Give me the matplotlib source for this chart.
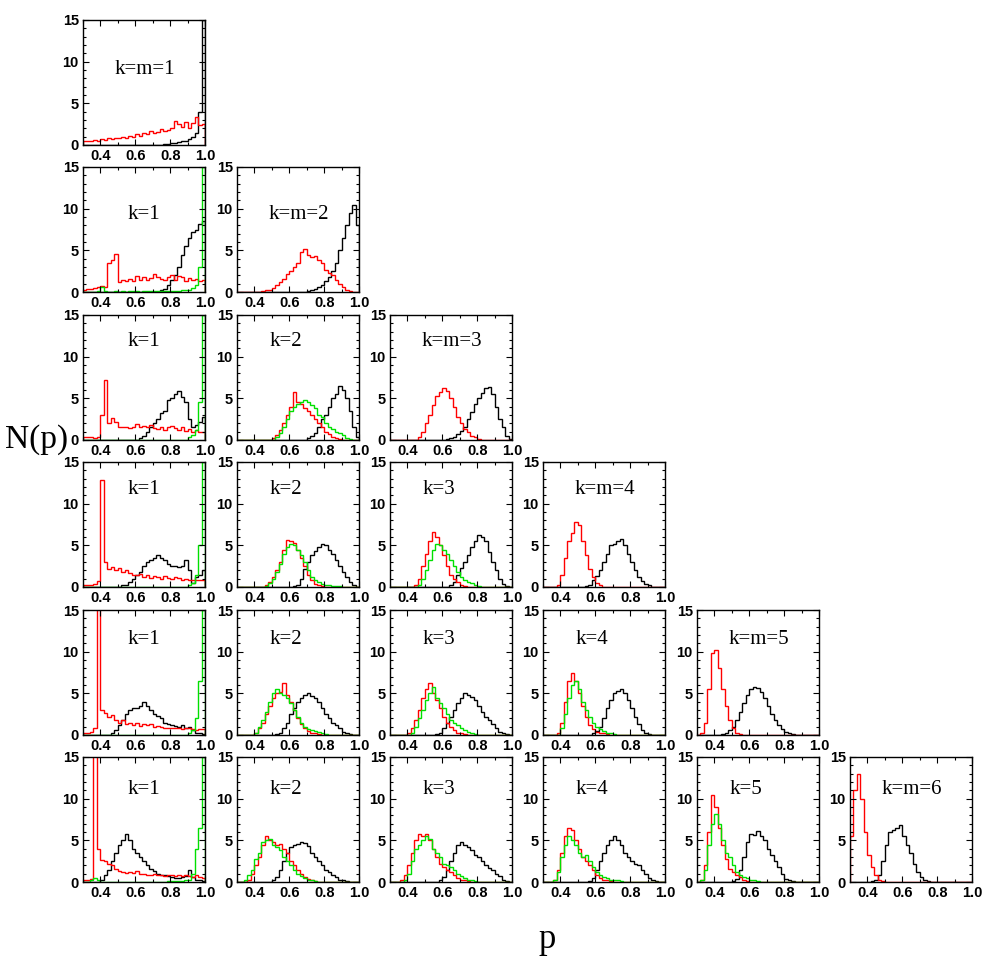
import numpy as np
import matplotlib
matplotlib.use("Agg")
import matplotlib.pyplot as plt
from matplotlib.ticker import MultipleLocator

# histogram heights, bin width 0.02 on p = 0.30 .. 1.00
# each curve is (centre of first listed bin, heights); bins not listed are 0
# row m = 1
m1_k1_red = (0.31, [0.5, 0.5, 0.5, 0.6, 0.5, 0.7, 0.6, 0.8, 0.7, 0.9, 0.8, 1.0, 0.9, 1.1, 1.0, 1.3, 1.1, 1.4,
                    1.3, 1.7, 1.5, 1.6, 1.9, 1.7, 1.8, 2.0, 2.9, 2.5, 2.2, 2.8, 2.0, 2.6, 3.4, 2.4, 2.5])
m1_k1_black = (0.77, [0.1, 0.1, 0.2, 0.3, 0.4, 0.5, 0.5, 0.7, 1.0, 1.5, 4.0, 15.0])

# row m = 2
m2_k1_red = (0.31, [0.3, 0.4, 0.4, 0.5, 0.6, 0.7, 0.6, 3.5, 3.8, 4.6, 1.2, 1.5, 1.3, 1.6, 1.3, 1.9, 1.4, 1.8,
                    1.5, 1.7, 2.2, 1.8, 1.6, 1.5, 1.8, 2.0, 1.4, 1.9, 1.8, 1.3, 1.7, 1.4, 1.6, 1.3, 1.4])
m2_k1_green = (0.39, [0.1, 0.6, 0.1, 0.05, 0.05, 0.1, 0.05, 0.1, 0.05, 0.1, 0.1, 0.1, 0.05, 0.1, 0.1, 0.1,
                      0.1, 0.1, 0.1, 0.1, 0.1, 0.15, 0.1, 0.15, 0.2, 0.2, 0.3, 0.5, 0.8, 3.0, 15.0])
m2_k1_black = (0.75, [0.2, 0.4, 0.8, 1.5, 2.0, 3.0, 4.5, 5.5, 6.5, 7.2, 7.5, 8.2, 8.5])
m2_k2_red = (0.45, [0.1, 0.2, 0.3, 0.5, 0.8, 1.2, 1.6, 2.2, 2.5, 3.0, 3.5, 4.8, 5.2, 4.5, 4.2, 4.3, 3.8, 3.5,
                    2.6, 2.3, 2.0, 1.5, 1.0, 0.6, 0.3, 0.1])
m2_k2_black = (0.71, [0.1, 0.2, 0.4, 0.6, 0.9, 1.3, 1.8, 2.5, 3.5, 5.0, 6.5, 8.0, 9.5, 10.5, 8.0])

# row m = 3
m3_k1_red = (0.31, [0.3, 0.3, 0.3, 0.2, 0.3, 3.0, 7.2, 2.0, 2.6, 2.2, 1.6, 1.5, 1.6, 1.4, 1.5, 1.9, 1.6, 1.7,
                    1.5, 1.8, 1.4, 1.3, 1.5, 1.2, 1.5, 1.7, 1.4, 1.2, 1.5, 1.1, 1.3, 1.0, 1.2, 1.0, 0.9])
m3_k1_green = (0.91, [0.3, 0.6, 1.2, 4.5, 15.0])
m3_k1_black = (0.63, [0.2, 0.5, 1.0, 1.5, 2.0, 2.5, 3.2, 3.5, 4.8, 5.0, 5.5, 5.9, 5.2, 4.5, 2.5, 1.5, 1.8,
                      2.2, 2.8])
m3_k2_red = (0.51, [0.2, 0.6, 1.2, 2.0, 3.0, 4.0, 5.8, 4.5, 4.3, 3.8, 3.5, 3.0, 2.5, 2.0, 1.5, 1.0, 0.7, 0.4,
                    0.2, 0.1])
m3_k2_green = (0.53, [0.3, 0.8, 1.5, 2.5, 3.5, 4.0, 4.3, 4.5, 4.8, 4.5, 4.2, 3.8, 3.0, 2.8, 2.0, 1.6, 1.3,
                      1.0, 0.8, 0.6, 0.2, 0.1])
m3_k2_black = (0.71, [0.2, 0.5, 0.8, 1.5, 2.5, 3.0, 4.0, 5.0, 5.5, 6.5, 6.0, 5.0, 3.5, 1.5, 0.3])
m3_k3_red = (0.47, [0.3, 1.0, 2.0, 3.0, 4.2, 5.3, 5.8, 6.2, 5.9, 5.0, 4.0, 2.8, 2.0, 1.3, 0.9, 0.5, 0.3, 0.1])
m3_k3_black = (0.63, [0.1, 0.2, 0.4, 0.7, 1.1, 1.6, 2.5, 3.4, 4.3, 5.0, 5.6, 6.2, 6.4, 5.5, 4.0, 2.5, 1.5,
                      0.5, 0.1])

# row m = 4
m4_k1_red = (0.31, [0.2, 0.3, 0.2, 0.4, 0.7, 12.8, 3.0, 2.2, 2.4, 2.0, 2.3, 1.8, 2.0, 1.7, 1.5, 1.4, 1.6, 1.2,
                    1.4, 1.1, 1.3, 1.2, 1.0, 1.3, 1.1, 1.0, 1.2, 1.1, 0.9, 1.0, 0.9, 0.8, 0.9, 0.8, 0.8])
m4_k1_green = (0.91, [0.2, 0.5, 1.5, 5.0, 15.0])
m4_k1_black = (0.53, [0.2, 0.3, 0.6, 1.0, 1.5, 1.8, 2.5, 3.0, 3.2, 3.5, 3.8, 3.5, 3.2, 2.8, 2.5, 2.5, 2.4,
                      2.5, 3.2, 2.0, 0.5, 1.2, 1.5, 2.0])
m4_k2_red = (0.47, [0.2, 0.6, 1.2, 2.0, 3.0, 4.5, 5.7, 5.5, 5.3, 4.5, 3.5, 2.5, 1.5, 0.8, 0.4, 0.2, 0.1])
m4_k2_green = (0.47, [0.1, 0.5, 1.0, 1.8, 2.8, 4.0, 4.8, 5.2, 5.0, 4.5, 3.8, 3.0, 2.0, 1.2, 0.8, 0.6, 0.4,
                      0.3, 0.2, 0.15, 0.1, 0.1])
m4_k2_black = (0.63, [0.1, 0.3, 1.0, 2.2, 3.0, 3.8, 4.3, 4.8, 5.2, 5.0, 4.5, 4.0, 3.2, 2.5, 1.8, 1.2, 0.6,
                      0.2, 0.05])
m4_k3_red = (0.45, [0.3, 1.0, 2.5, 4.0, 5.5, 6.6, 6.0, 5.0, 3.8, 2.5, 1.5, 1.0, 0.6, 0.3, 0.1])
m4_k3_green = (0.47, [0.3, 1.0, 2.0, 3.2, 4.5, 5.2, 5.0, 4.5, 4.0, 3.2, 2.5, 1.8, 1.2, 0.9, 0.6, 0.5, 0.3, 0.1])
m4_k3_black = (0.65, [0.2, 0.6, 1.5, 2.3, 3.0, 3.8, 4.8, 5.5, 6.3, 6.0, 5.5, 4.2, 3.0, 2.0, 1.0, 0.4, 0.1])
m4_k4_red = (0.39, [0.2, 1.5, 3.5, 5.5, 6.5, 7.8, 7.5, 5.5, 3.8, 2.2, 1.2, 0.5, 0.2])
m4_k4_black = (0.55, [0.1, 0.3, 0.8, 1.3, 2.0, 3.0, 4.0, 5.0, 5.2, 5.5, 5.8, 5.0, 4.0, 3.0, 2.0, 1.2, 0.7,
                      0.4, 0.2, 0.05])

# row m = 5
m5_k1_red = (0.31, [0.3, 0.3, 0.4, 0.8, 16.0, 3.0, 2.6, 2.2, 2.4, 1.8, 1.5, 1.8, 1.3, 1.5, 1.2, 1.4, 1.1, 1.3,
                    1.2, 1.3, 1.0, 1.1, 1.0, 0.8, 0.9, 0.8, 0.9, 0.8, 0.7, 0.8, 0.9, 0.7, 0.6, 0.7, 0.7])
m5_k1_green = (0.91, [0.3, 0.6, 2.0, 6.5, 15.0])
m5_k1_black = (0.47, [0.2, 0.6, 1.2, 1.8, 2.5, 3.0, 3.3, 3.2, 3.5, 4.0, 3.5, 3.0, 2.5, 2.3, 2.0, 1.5, 1.3,
                      1.2, 1.1, 1.0, 1.2, 0.9, 1.0, 0.6, 0.3, 0.2, 0.1])
m5_k2_red = (0.41, [0.3, 0.8, 1.5, 2.5, 3.5, 4.5, 5.0, 5.2, 6.2, 4.8, 4.0, 3.0, 2.0, 1.3, 0.8, 0.5, 0.3, 0.2,
                    0.1])
m5_k2_green = (0.41, [0.3, 1.0, 1.8, 2.8, 4.0, 5.0, 5.5, 5.0, 4.8, 4.5, 3.8, 3.0, 2.2, 1.5, 1.0, 0.7, 0.6,
                      0.5, 0.4, 0.2, 0.1])
m5_k2_black = (0.53, [0.1, 0.3, 0.8, 1.5, 2.5, 3.3, 4.0, 4.5, 4.8, 5.0, 4.7, 4.5, 4.0, 3.2, 2.5, 2.0, 1.5,
                      1.2, 0.8, 0.4, 0.2, 0.1])
m5_k3_red = (0.41, [0.2, 0.8, 1.8, 3.0, 4.5, 5.5, 6.3, 5.0, 4.2, 3.2, 2.2, 1.5, 1.0, 0.6, 0.3, 0.2, 0.1])
m5_k3_green = (0.43, [0.3, 1.0, 2.0, 3.0, 4.2, 5.0, 5.8, 4.5, 3.8, 3.2, 2.5, 1.8, 1.5, 1.2, 0.8, 0.6, 0.4,
                      0.2, 0.1])
m5_k3_black = (0.57, [0.1, 0.3, 0.8, 1.5, 2.2, 3.0, 3.8, 4.5, 5.0, 4.8, 4.6, 4.2, 3.5, 2.8, 2.2, 1.8, 1.3,
                      0.8, 0.4, 0.2, 0.1])
m5_k4_red = (0.39, [0.3, 1.5, 4.0, 6.5, 7.5, 6.5, 5.0, 3.5, 2.2, 1.2, 0.7, 0.4, 0.3, 0.2, 0.1])
m5_k4_green = (0.41, [0.8, 2.5, 4.5, 6.0, 6.5, 5.5, 4.0, 3.0, 2.2, 1.5, 1.0, 0.7, 0.5, 0.3, 0.2, 0.1])
m5_k4_black = (0.59, [0.2, 0.5, 1.0, 2.0, 3.2, 4.2, 5.0, 5.3, 5.5, 5.0, 4.2, 3.2, 2.2, 1.3, 0.6, 0.3, 0.1])
m5_k5_red = (0.33, [0.3, 1.5, 5.5, 9.8, 10.2, 8.0, 5.5, 3.5, 1.8, 0.8, 0.3, 0.1])
m5_k5_black = (0.45, [0.1, 0.3, 0.6, 1.0, 1.8, 2.8, 3.8, 4.8, 5.5, 5.8, 5.6, 5.2, 4.5, 3.5, 2.5, 1.8, 1.2,
                      0.7, 0.4, 0.2, 0.1])

# row m = 6
m6_k1_red = (0.31, [0.3, 0.3, 0.4, 16.0, 4.0, 2.7, 2.5, 2.2, 2.0, 1.6, 1.3, 1.2, 1.1, 1.2, 1.1, 1.3, 1.0, 1.0,
                    0.9, 0.8, 1.0, 0.9, 0.8, 0.7, 0.9, 0.8, 0.7, 0.8, 0.7, 0.8, 0.7, 0.6, 0.8, 0.6, 0.5])
m6_k1_green = (0.35, [0.2, 0.5, 0.2, 0.0, 0.0, 0.0, 0.0, 0.0, 0.0, 0.0, 0.0, 0.0, 0.0, 0.0, 0.0, 0.0, 0.0,
                      0.0, 0.0, 0.0, 0.0, 0.0, 0.1, 0.1, 0.1, 0.1, 0.1, 0.2, 0.3, 1.0, 4.0, 6.5, 15.0])
m6_k1_black = (0.41, [0.3, 0.8, 1.5, 2.5, 3.5, 4.5, 5.0, 5.8, 5.0, 4.0, 3.5, 3.0, 2.5, 2.0, 1.6, 1.3, 1.0,
                      0.8, 0.8, 0.7, 0.6, 0.5, 0.5, 0.6, 0.7, 1.5, 0.6, 0.3, 0.2, 0.1])
m6_k2_red = (0.37, [0.3, 1.0, 2.0, 3.0, 4.5, 5.5, 5.0, 4.8, 4.5, 4.6, 4.0, 3.5, 2.5, 2.0, 1.5, 1.0, 0.6, 0.4,
                    0.2, 0.1])
m6_k2_green = (0.35, [0.2, 0.8, 1.5, 2.8, 3.5, 4.8, 5.0, 5.2, 4.5, 4.2, 3.8, 3.0, 2.5, 2.0, 1.5, 1.0, 0.7,
                      0.5, 0.3, 0.2, 0.1])
m6_k2_black = (0.51, [0.2, 0.6, 1.5, 2.5, 3.5, 4.2, 4.5, 4.6, 4.8, 4.7, 4.3, 3.5, 3.0, 2.5, 2.0, 1.5, 1.2,
                      0.8, 0.6, 0.3, 0.2, 0.1])
m6_k3_red = (0.37, [0.2, 0.8, 2.0, 3.5, 5.0, 5.8, 5.5, 5.8, 5.0, 4.0, 3.0, 2.2, 1.8, 1.5, 1.2, 0.8, 0.5, 0.3,
                    0.2, 0.1])
m6_k3_green = (0.39, [0.3, 1.0, 2.5, 4.0, 4.5, 5.0, 5.5, 5.2, 4.0, 3.5, 3.0, 2.2, 2.0, 1.8, 1.5, 1.0, 0.7,
                      0.5, 0.3, 0.2, 0.1])
m6_k3_black = (0.59, [0.2, 0.6, 1.5, 2.5, 3.5, 4.5, 4.8, 4.5, 4.2, 3.8, 3.2, 3.0, 2.5, 2.0, 1.7, 1.5, 1.0,
                      0.7, 0.3, 0.1])
m6_k4_red = (0.37, [0.3, 1.5, 3.5, 5.5, 6.5, 6.2, 5.0, 4.0, 3.0, 2.5, 2.0, 1.5, 0.8, 0.5, 0.3, 0.2, 0.1])
m6_k4_green = (0.37, [0.3, 1.2, 3.0, 4.5, 5.5, 5.0, 4.5, 3.5, 3.0, 3.2, 2.5, 1.8, 1.2, 0.8, 0.6, 0.5, 0.3,
                      0.2, 0.2, 0.1])
m6_k4_black = (0.57, [0.1, 0.5, 1.5, 2.5, 3.5, 4.5, 5.0, 5.5, 5.0, 4.5, 3.5, 3.0, 2.5, 2.2, 2.0, 1.5, 1.0,
                      0.5, 0.2, 0.1])
m6_k5_red = (0.33, [0.3, 2.0, 6.0, 10.5, 9.0, 6.5, 4.5, 2.8, 1.6, 1.2, 0.9, 0.6, 0.3, 0.1])
m6_k5_green = (0.33, [0.2, 1.5, 4.5, 7.0, 8.2, 7.0, 5.0, 3.5, 3.0, 2.0, 1.2, 0.8, 0.6, 0.5, 0.3, 0.2, 0.1])
m6_k5_black = (0.51, [0.1, 0.4, 1.5, 3.0, 4.8, 5.8, 5.7, 6.1, 5.5, 5.0, 4.0, 3.2, 2.5, 1.8, 1.0, 0.4, 0.2,
                      0.1])
m6_k6_red = (0.31, [5.5, 11.0, 13.0, 10.0, 6.0, 3.2, 1.8, 0.8, 0.3, 0.1])
m6_k6_black = (0.43, [0.1, 0.3, 0.8, 2.5, 4.5, 6.0, 6.2, 6.5, 6.8, 5.5, 4.5, 3.5, 2.2, 1.2, 0.6, 0.3, 0.1])

# (m, k) -> (black, red, green)
panels = {
    (1, 1): (m1_k1_black, m1_k1_red, None),
    (2, 1): (m2_k1_black, m2_k1_red, m2_k1_green),
    (2, 2): (m2_k2_black, m2_k2_red, None),
    (3, 1): (m3_k1_black, m3_k1_red, m3_k1_green),
    (3, 2): (m3_k2_black, m3_k2_red, m3_k2_green),
    (3, 3): (m3_k3_black, m3_k3_red, None),
    (4, 1): (m4_k1_black, m4_k1_red, m4_k1_green),
    (4, 2): (m4_k2_black, m4_k2_red, m4_k2_green),
    (4, 3): (m4_k3_black, m4_k3_red, m4_k3_green),
    (4, 4): (m4_k4_black, m4_k4_red, None),
    (5, 1): (m5_k1_black, m5_k1_red, m5_k1_green),
    (5, 2): (m5_k2_black, m5_k2_red, m5_k2_green),
    (5, 3): (m5_k3_black, m5_k3_red, m5_k3_green),
    (5, 4): (m5_k4_black, m5_k4_red, m5_k4_green),
    (5, 5): (m5_k5_black, m5_k5_red, None),
    (6, 1): (m6_k1_black, m6_k1_red, m6_k1_green),
    (6, 2): (m6_k2_black, m6_k2_red, m6_k2_green),
    (6, 3): (m6_k3_black, m6_k3_red, m6_k3_green),
    (6, 4): (m6_k4_black, m6_k4_red, m6_k4_green),
    (6, 5): (m6_k5_black, m6_k5_red, m6_k5_green),
    (6, 6): (m6_k6_black, m6_k6_red, None),
}

bin_edges = np.linspace(0.30, 1.00, 36)


def to_counts(curve):
    start, vals = curve
    counts = np.zeros(len(bin_edges) - 1)
    i0 = int(round((start - 0.31) / 0.02))
    vals = vals[:len(counts) - i0]
    counts[i0:i0 + len(vals)] = vals
    return counts


# layout in pixels of the 985x960 picture
col_left = [83, 237, 390, 543, 697, 850]
row_top = [20, 167, 315, 462, 610, 757]
box_w, box_h = 122, 125
label_y = [0.60, 0.62, 0.79, 0.78, 0.76, 0.74]
label_x_k1 = 0.50
label_x_k = 0.40
label_x_diag = 0.51

plt.rcParams["font.family"] = ["Liberation Sans", "DejaVu Sans"]
fig = plt.figure(figsize=(9.85, 9.6), dpi=100)

for (m, k), (black, red, green) in panels.items():
    left = col_left[k - 1] / 985
    bottom = 1 - (row_top[m - 1] + box_h) / 960
    ax = fig.add_axes([left, bottom, box_w / 985, box_h / 960])

    ax.stairs(to_counts(black), bin_edges, color="black", lw=1.0)
    ax.stairs(to_counts(red), bin_edges, color="#ff0000", lw=1.0)
    if green is not None:
        ax.stairs(to_counts(green), bin_edges, color="#00e000", lw=1.0)

    ax.set_xlim(0.3, 1.0)
    ax.set_ylim(0, 15)
    ax.set_xticks([0.4, 0.6, 0.8, 1.0])
    ax.set_xticklabels(["0.4", "0.6", "0.8", "1.0"])
    ax.set_yticks([0, 5, 10, 15])
    ax.xaxis.set_minor_locator(MultipleLocator(0.1))
    ax.yaxis.set_minor_locator(MultipleLocator(1))
    ax.tick_params(which="both", direction="in", top=True, right=True, width=0.8)
    ax.tick_params(which="major", length=4, labelsize=10.5, pad=3)
    ax.tick_params(which="minor", length=2)
    for lab in ax.get_xticklabels() + ax.get_yticklabels():
        lab.set_fontweight("bold")
    for sp in ax.spines.values():
        sp.set_linewidth(1.0)

    if k == m:
        text, lx = f"k=m={k}", label_x_diag
    elif k == 1:
        text, lx = "k=1", label_x_k1
    else:
        text, lx = f"k={k}", label_x_k
    ax.text(lx, label_y[m - 1], text, transform=ax.transAxes, ha="center", va="center",
            fontsize=15, family="Liberation Serif")

fig.text(37 / 985, 1 - 440 / 960, "N(p)", ha="center", va="center", fontsize=24, family="Liberation Serif")
fig.text(547 / 985, 1 - 940 / 960, "p", ha="center", va="center", fontsize=25, family="Liberation Serif")

fig.savefig("out.png", dpi=100)
